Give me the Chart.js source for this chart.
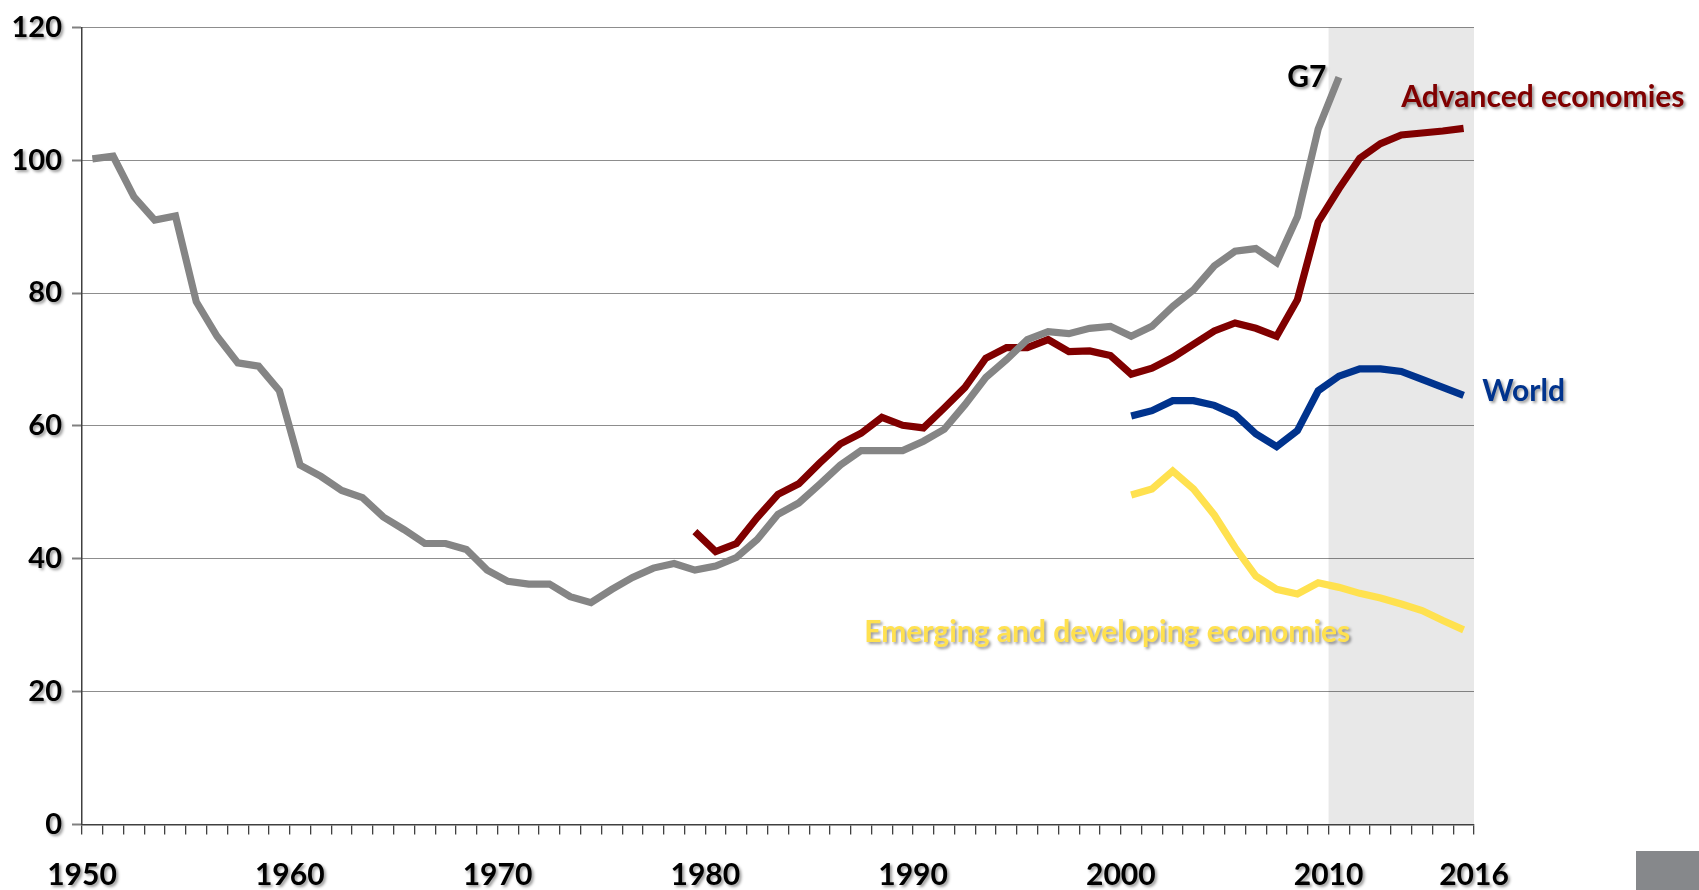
<!DOCTYPE html>
<html>
<head>
<meta charset="utf-8">
<script src="https://cdn.jsdelivr.net/npm/chart.js@4.4.1/dist/chart.umd.min.js"></script>
<style>
body { margin: 0; background: #fff; }
#wrap { position: relative; width: 1699px; height: 890px; }
#corner { position: absolute; left: 1636px; top: 851px; width: 63px; height: 39px; background: #86888b; }
</style>
</head>
<body>
<div id="wrap">
<canvas id="debtChart"></canvas>
<div id="corner"></div>
</div>
<script>
// gross debt, % of GDP
const g7Start = 1950;
const g7 = [100.2, 100.6, 94.5, 91.0, 91.6, 78.7, 73.5, 69.5, 69.0, 65.3,
  54.1, 52.4, 50.3, 49.2, 46.3, 44.4, 42.3, 42.3, 41.4, 38.3,
  36.6, 36.2, 36.2, 34.3, 33.4, 35.4, 37.2, 38.6, 39.3, 38.3,
  38.9, 40.2, 42.9, 46.7, 48.4, 51.2, 54.1, 56.3, 56.3, 56.3,
  57.7, 59.5, 63.2, 67.3, 70.0, 73.0, 74.2, 73.9, 74.7, 75.0,
  73.5, 75.0, 78.0, 80.5, 84.1, 86.3, 86.7, 84.6, 91.5, 104.7,
  112.5];

const advStart = 1979;
const advanced = [44.1, 41.1, 42.3, 46.2, 49.7, 51.3, 54.4, 57.3, 58.9, 61.3,
  60.1, 59.7, 62.7, 65.8, 70.2, 71.8, 71.8, 73.0, 71.2, 71.3,
  70.6, 67.8, 68.7, 70.3, 72.3, 74.3, 75.5, 74.7, 73.5, 79.0,
  90.7, 95.7, 100.3, 102.5, 103.8, 104.1, 104.4, 104.8];

const worldStart = 2000;
const world = [61.5, 62.3, 63.8, 63.8, 63.1, 61.7, 58.8, 56.9, 59.3, 65.3,
  67.5, 68.6, 68.6, 68.2, 67.0, 65.8, 64.6];

const emdeStart = 2000;
const emde = [49.6, 50.5, 53.2, 50.5, 46.6, 41.7, 37.4, 35.4, 34.7, 36.4,
  35.7, 34.8, 34.1, 33.2, 32.2, 30.7, 29.3];

const xTickLabels = ['1950', '1960', '1970', '1980', '1990', '2000', '2010', '2016'];
const projectionStart = 2010;

const X_MIN = 1949.5;
const X_MAX = 2016.5;

function toPoints(start, values) {
  return values.map((v, i) => ({ x: start + i, y: v }));
}

const seriesLabels = [
  { text: 'G7', color: '#000000', x: 2009.4, y: 112.5, align: 'right' },
  { text: 'Advanced economies', color: '#800000', x: 2013.0, y: 109.5, align: 'left' },
  { text: 'World', color: '#00338d', x: 2016.9, y: 65.2, align: 'left' },
  { text: 'Emerging and developing economies', color: '#ffe14f', x: 1987.15, y: 29.0, align: 'left' }
];

const FONT = 'Lato, "Liberation Sans", sans-serif';

// grey band behind the projection years
const shadePlugin = {
  id: 'shade',
  beforeDraw(chart) {
    const { ctx, chartArea, scales } = chart;
    const x0 = scales.x.getPixelForValue(projectionStart - 0.5);
    ctx.save();
    ctx.fillStyle = '#e8e8e8';
    ctx.fillRect(x0, chartArea.top, chartArea.right - x0, chartArea.bottom - chartArea.top);
    ctx.restore();
  }
};

// series names + soft shadow, shadow kept on for the tick labels (drawn at z=1)
const labelPlugin = {
  id: 'seriesLabels',
  afterDatasetsDraw(chart) {
    const { ctx, scales } = chart;
    ctx.save();
    ctx.shadowColor = 'rgba(0,0,0,0.4)';
    ctx.shadowOffsetX = 2;
    ctx.shadowOffsetY = 2;
    ctx.shadowBlur = 3;
    ctx.save();
    ctx.font = 'bold 30px ' + FONT;
    ctx.textBaseline = 'middle';
    seriesLabels.forEach(l => {
      ctx.fillStyle = l.color;
      ctx.textAlign = l.align;
      ctx.fillText(l.text, scales.x.getPixelForValue(l.x), scales.y.getPixelForValue(l.y));
    });
    ctx.restore();
  },
  afterDraw(chart) {
    chart.ctx.restore();
  }
};

const ctx = document.getElementById('debtChart');

new Chart(ctx, {
  type: 'line',
  data: {
    datasets: [
      { label: 'G7', data: toPoints(g7Start, g7), borderColor: '#858585' },
      { label: 'Advanced economies', data: toPoints(advStart, advanced), borderColor: '#800000' },
      { label: 'World', data: toPoints(worldStart, world), borderColor: '#00338d' },
      { label: 'Emerging and developing economies', data: toPoints(emdeStart, emde), borderColor: '#ffe14f' }
    ]
  },
  options: {
    responsive: true,
    maintainAspectRatio: false,
    animation: false,
    layout: { padding: { top: 23, right: 225, left: 0, bottom: 0 } },
    elements: {
      line: { borderWidth: 7.2, tension: 0, fill: false },
      point: { radius: 0, hoverRadius: 0 }
    },
    plugins: {
      legend: { display: false },
      tooltip: { enabled: false }
    },
    scales: {
      x: {
        type: 'linear',
        min: X_MIN,
        max: X_MAX,
        afterBuildTicks(axis) {
          const t = [];
          for (let v = X_MIN; v <= X_MAX; v++) t.push({ value: v });
          axis.ticks = t;
        },
        afterFit(axis) { axis.height = 65.5; },
        grid: { drawOnChartArea: false, drawTicks: true, tickLength: 10, tickColor: '#404040', lineWidth: 1.3 },
        border: { color: '#404040', width: 1.5 },
        ticks: {
          z: 1,
          autoSkip: false,
          maxRotation: 0,
          padding: 23,
          color: '#000',
          font: { family: FONT, size: 30, weight: 'bold' },
          callback(v) {
            if (v === X_MAX) return xTickLabels[xTickLabels.length - 1];
            const i = xTickLabels.indexOf(String(v + 0.5));
            return (i >= 0 && i < xTickLabels.length - 1) ? xTickLabels[i] : '';
          }
        }
      },
      y: {
        min: 0,
        max: 120,
        afterFit(axis) { axis.width = 82; },
        grid: { color: '#1a1a1a', lineWidth: 1, tickLength: 10, tickColor: '#808080', tickWidth: 2 },
        border: { color: '#404040', width: 1.5, dash: [1, 1] },
        ticks: {
          z: 1,
          stepSize: 20,
          padding: 10,
          color: '#000',
          font: { family: FONT, size: 29, weight: 'bold' }
        }
      }
    }
  },
  plugins: [shadePlugin, labelPlugin]
});
</script>
</body>
</html>
